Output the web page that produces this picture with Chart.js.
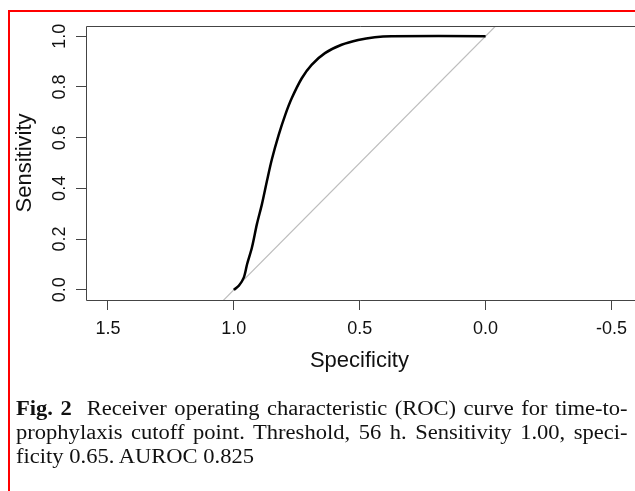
<!DOCTYPE html>
<html>
<head>
<meta charset="utf-8">
<script src="https://cdn.jsdelivr.net/npm/chart.js@4.4.1/dist/chart.umd.min.js"></script>
<style>
  body { margin: 0; background: #fff; width: 635px; height: 491px; overflow: hidden; position: relative; }
  #frame { position: absolute; left: 8px; top: 10px; width: 700px; height: 600px;
           border-left: 2px solid #f00; border-top: 2px solid #f00; }
  #wrap { position: absolute; left: 0; top: 0; width: 635px; height: 400px; }
  #caption { position: absolute; left: 16px; top: 396px; width: 556px;
             transform: scale(1.1, 1); transform-origin: 0 0;
             font-family: "Liberation Serif", "Times New Roman", serif; font-size: 20.5px;
             line-height: 24px; color: #111; }
  #caption div { text-align: justify; text-align-last: justify; }
  #caption div.last { text-align-last: left; }
</style>
</head>
<body>
<div id="frame"></div>
<div id="wrap"><canvas id="myChart" width="635" height="400"></canvas></div>
<div id="caption">
  <div><b>Fig. 2</b>&nbsp; Receiver operating characteristic (ROC) curve for time-to-</div>
  <div>prophylaxis cutoff point. Threshold, 56 h. Sensitivity 1.00, speci-</div>
  <div class="last">ficity 0.65. AUROC 0.825</div>
</div>
<script>
// ROC curve (specificity, sensitivity)
const specificity = [1.0, 0.98, 0.96, 0.947, 0.928, 0.908, 0.888, 0.868, 0.849, 0.822,
                     0.796, 0.770, 0.730, 0.691, 0.638, 0.572, 0.506, 0.440, 0.374, 0.0];
const sensitivity = [0.0, 0.016, 0.049, 0.102, 0.167, 0.260, 0.339, 0.431, 0.514, 0.610,
                     0.689, 0.755, 0.834, 0.887, 0.933, 0.966, 0.985, 0.996, 1.0, 1.0];

// chance diagonal (sens = 1 - spec), clipped by the plot box
const refSpec = [1.2, -0.2];
const refSens = [-0.2, 1.2];

const xTicks = [1.5, 1.0, 0.5, 0.0, -0.5];
const yTicks = [0.0, 0.2, 0.4, 0.6, 0.8, 1.0];

const toPoints = (xs, ys) => xs.map((x, i) => ({ x: x, y: ys[i] }));

// R-style box round the plot; its right side is cut off in the figure
const boxPlugin = {
    id: 'box',
    afterDraw(chart) {
        const a = chart.chartArea;
        const ctx = chart.ctx;
        ctx.save();
        ctx.strokeStyle = '#444';
        ctx.lineWidth = 1;
        ctx.beginPath();
        ctx.moveTo(chart.width, a.top + 0.5);
        ctx.lineTo(a.left + 0.5, a.top + 0.5);
        ctx.lineTo(a.left + 0.5, a.bottom + 0.5);
        ctx.lineTo(chart.width, a.bottom + 0.5);
        ctx.stroke();
        ctx.restore();
    }
};

const axisColor = '#444';
const sans = 'Liberation Sans, Arial, Helvetica, sans-serif';

new Chart(document.getElementById('myChart').getContext('2d'), {
    type: 'scatter',
    data: {
        datasets: [{
            label: 'ROC',
            data: toPoints(specificity, sensitivity),
            showLine: true,
            borderColor: '#000',
            borderWidth: 2.5,
            pointRadius: 0,
            tension: 0.3
        }, {
            label: 'chance',
            data: toPoints(refSpec, refSens),
            showLine: true,
            borderColor: '#bdbdbd',
            borderWidth: 1.2,
            pointRadius: 0
        }]
    },
    options: {
        responsive: false,
        animation: false,
        layout: { padding: { top: 26, right: 0, left: 0, bottom: 0 } },
        plugins: { legend: { display: false }, tooltip: { enabled: false } },
        scales: {
            x: {
                type: 'linear',
                reverse: true,
                min: -0.585,
                max: 1.587,
                afterBuildTicks: s => { s.ticks = xTicks.map(v => ({ value: v })); },
                afterFit: s => { s.height = 100; },
                ticks: {
                    color: '#111',
                    font: { family: sans, size: 18 },
                    padding: 8,
                    maxRotation: 0,
                    callback: v => v.toFixed(1)
                },
                grid: { drawOnChartArea: false, color: axisColor, tickLength: 10 },
                border: { display: false },
                title: {
                    display: true,
                    text: 'Specificity',
                    color: '#111',
                    font: { family: sans, size: 22 },
                    padding: { top: 0, bottom: 26 }
                }
            },
            y: {
                type: 'linear',
                min: -0.04,
                max: 1.04,
                afterBuildTicks: s => { s.ticks = yTicks.map(v => ({ value: v })); },
                afterFit: s => { s.width = 86; },
                ticks: {
                    color: '#111',
                    font: { family: sans, size: 18 },
                    padding: 3,
                    minRotation: 90,
                    maxRotation: 90,
                    crossAlign: 'center',
                    callback: v => v.toFixed(1)
                },
                grid: { drawOnChartArea: false, color: axisColor, tickLength: 10 },
                border: { display: false },
                title: {
                    display: true,
                    text: 'Sensitivity',
                    color: '#111',
                    font: { family: sans, size: 22 },
                    padding: { top: 12, bottom: 0 }
                }
            }
        }
    },
    plugins: [boxPlugin]
});
</script>
</body>
</html>
